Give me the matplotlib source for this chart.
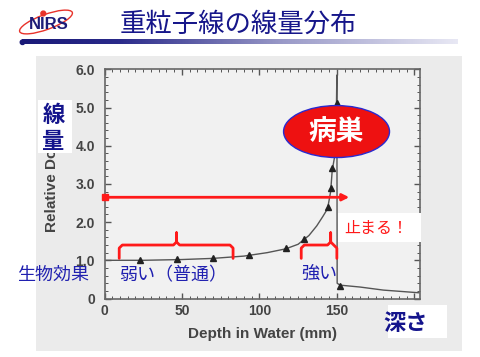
import numpy as np
import matplotlib
matplotlib.use('Agg')
import matplotlib.pyplot as plt
from matplotlib.patches import Ellipse, Rectangle, Circle
from matplotlib.colors import LinearSegmentedColormap
from matplotlib.ticker import MultipleLocator, FixedLocator, FixedFormatter

W, H = 481, 357
CJK = ['Noto Sans CJK JP', 'DejaVu Sans']
LAT = ['Liberation Sans', 'DejaVu Sans']

# ---- data ----
depth_mm = [0, 25, 50, 70, 90, 105, 117, 125, 132, 137, 141, 144, 146, 147,
            148.5, 149.5, 150.0, 150.2, 152, 165, 180, 203]
rel_dose = [1.0, 1.0, 1.02, 1.05, 1.11, 1.2, 1.30, 1.42, 1.65, 1.9, 2.15, 2.35,
            2.8, 3.35, 3.7, 4.3, 5.85, 0.4, 0.35, 0.3, 0.22, 0.15]
marker_depth = [23, 47, 70, 93.5, 117, 129, 144, 146, 147, 150.2, 152]
marker_dose = [1.01, 1.03, 1.06, 1.14, 1.33, 1.56, 2.4, 2.88, 3.41, 5.13, 0.33]

x_ticks = [0, 50, 100, 150, 200]
x_tick_labels = ['0', '50', '100', '150', '200']
y_ticks = [0, 1, 2, 3, 4, 5, 6]
y_tick_labels = ['0', '1.0', '2.0', '3.0', '4.0', '5.0', '6.0']

arrow_dose = 2.65
arrow_depth = [0, 158]
brace1_depth = [9.5, 46.5, 83]
brace2_depth = [127, 146, 150]
tumor_center = (149.8, 4.37)

title = '重粒子線の線量分布'

fig = plt.figure(figsize=(W / 100, H / 100), dpi=100)
fig.patch.set_facecolor('white')

# ---- background / slide decorations (pixel coords) ----
bg = fig.add_axes([0, 0, 1, 1], zorder=0)
bg.axis('off')
bg.add_patch(Rectangle((36, 56), 426, 295, fc='#ebebeb', ec='none'))
grad = np.linspace(0, 1, 256).reshape(1, -1)
cmap = LinearSegmentedColormap.from_list(
    'g', [(0, '#1a1a78'), (0.22, '#2a2a8a'), (0.6, '#9a9ac8'), (1, '#e8e8f4')])
bg.imshow(grad, extent=[22, 458, 44.5, 40], aspect='auto', cmap=cmap,
          interpolation='bilinear')
bg.add_patch(Circle((22.5, 42.25), 2.25, color='#1a1a78'))
bg.set_xlim(0, W)
bg.set_ylim(H, 0)
bg.text(238, 24.5, title, fontsize=19, color='#16168a', ha='center',
        va='center', family=CJK)
bg.add_patch(Ellipse((46, 22), 56, 15, angle=-20, fill=False, ec='#e8322a', lw=1))
bg.text(48.5, 24.5, 'NIRS', fontsize=12, fontweight='bold', color='#1c1c78',
        ha='center', va='center', family=LAT)
bg.add_patch(Circle((43.3, 13.5), 2.4, color='#e8322a'))

# ---- main chart ----
ax = fig.add_axes([104.5 / W, 1 - 298.5 / H, 316 / W, 229.2 / H], zorder=1)
ax.set_facecolor('#f1f1f1')
ax.plot(depth_mm, rel_dose, color='#555555', lw=1)
ax.plot(marker_depth, marker_dose, ls='none', marker='^', ms=3.8, color='#222222')
ax.set_xlim(0, 204)
ax.set_ylim(0, 6)
for s in ax.spines.values():
    s.set_color('#666666')
    s.set_linewidth(1.2)
ax.xaxis.set_major_locator(FixedLocator(x_ticks))
ax.xaxis.set_major_formatter(FixedFormatter(x_tick_labels))
ax.yaxis.set_major_locator(FixedLocator(y_ticks))
ax.yaxis.set_major_formatter(FixedFormatter(y_tick_labels))
ax.xaxis.set_minor_locator(MultipleLocator(5))
ax.yaxis.set_minor_locator(MultipleLocator(0.2))
ax.tick_params(which='both', direction='in', top=True, right=True, colors='#555555')
ax.tick_params(which='major', length=4, width=1)
ax.tick_params(which='minor', length=2, width=0.7)
ax.tick_params(axis='y', pad=6.8)
ax.tick_params(axis='x', pad=4)
for lab in ax.get_xticklabels() + ax.get_yticklabels():
    lab.set_family(LAT)
    lab.set_fontweight('bold')
    lab.set_fontsize(10)
    lab.set_color('#444444')
ax.set_xlabel('Depth in Water (mm)', family=LAT, fontweight='bold', fontsize=11,
              color='#444444', va='center')
ax.xaxis.set_label_coords((262 - 104.5) / 316, (298.5 - 334) / 229.2)
ax.set_ylabel('Relative Dose', family=LAT, fontweight='bold', fontsize=11,
              color='#444444', va='center', ha='center')
ax.yaxis.set_label_coords((51.5 - 104.5) / 316, (298.5 - 182) / 229.2)

# red arrow
ax.annotate('', xy=(arrow_depth[1], arrow_dose), xytext=(arrow_depth[0], arrow_dose),
            arrowprops=dict(arrowstyle='-|>', color='#ff1a1a', lw=2,
                            mutation_scale=10, shrinkA=0, shrinkB=0), zorder=6)
ax.plot([arrow_depth[0]], [arrow_dose], marker='s', ms=4, color='#ff1a1a',
        clip_on=False, zorder=6)

# braces
def brace(x0, xm, x1, y_end=1.05, y_mid=1.40, y_peak=1.72):
    dx, dy = 2.0, 0.08
    xs = [x0, x0, x0 + dx, xm - dx, xm, xm, xm, xm + dx, x1 - dx, x1, x1]
    ys = [y_end, y_mid - dy, y_mid, y_mid, y_mid + dy, y_peak, y_mid + dy,
          y_mid, y_mid, y_mid - dy, y_end]
    ax.plot(xs, ys, color='#ff1a1a', lw=2, solid_capstyle='round',
            solid_joinstyle='round', zorder=6)

brace(*brace1_depth)
brace(*brace2_depth)

# tumour ellipse
ax.add_patch(Ellipse(tumor_center, 68.4, 1.36, fc='#ee1111', ec='#2a2ad0',
                     lw=1, zorder=7))
ax.text(tumor_center[0], tumor_center[1], '病巣', fontsize=20, fontweight='bold',
        color='white', ha='center', va='center', family=CJK, zorder=8)

# ---- overlay labels (pixel coords) ----
top = fig.add_axes([0, 0, 1, 1], zorder=2)
top.set_xlim(0, W)
top.set_ylim(H, 0)
top.axis('off')
top.patch.set_alpha(0)
top.add_patch(Rectangle((38, 100), 33.7, 53, fc='white', ec='none'))
top.add_patch(Rectangle((388, 305), 59, 33, fc='white', ec='none'))
top.add_patch(Rectangle((338, 212.7), 83, 29, fc='white', ec='none'))
navy = '#14148c'
blue = '#2020b0'
top.text(53.5, 116, '線', fontsize=16, fontweight='bold', color=navy,
         ha='center', va='center', family=CJK)
top.text(53.5, 141, '量', fontsize=16, fontweight='bold', color=navy,
         ha='center', va='center', family=CJK)
top.text(406, 323, '深さ', fontsize=16, fontweight='bold', color=navy,
         ha='center', va='center', family=CJK)
top.text(376, 229, '止まる！', fontsize=11.5, color='#ff1a1a',
         ha='center', va='center', family=CJK)
top.text(53, 275, '生物効果', fontsize=13, color=blue, ha='center', va='center',
         family=CJK)
top.text(173, 275, '弱い（普通）', fontsize=13, color=blue, ha='center',
         va='center', family=CJK)
top.text(319, 274, '強い', fontsize=13, color=blue, ha='center', va='center',
         family=CJK)

fig.savefig('out.png', dpi=100, facecolor='white')
